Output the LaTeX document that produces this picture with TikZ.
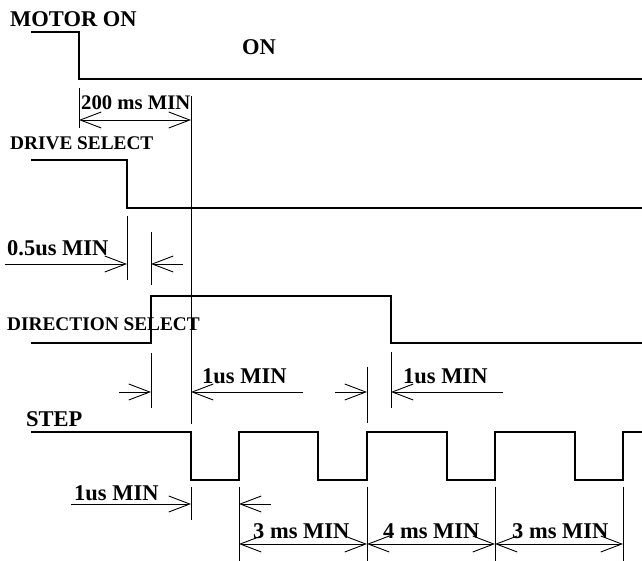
\documentclass[tikz,border=0pt]{standalone}
\usepackage{fontspec}
\setmainfont{Liberation Serif}
\usetikzlibrary{arrows.meta}
\begin{document}
\begin{tikzpicture}[x=1pt,y=-1pt,
  wave/.style={line width=2.6pt, line join=miter},
  dim/.style={line width=0.9pt},
  tipend/.style={dim,-{Straight Barb[length=21pt,width=16pt]}},
  tipboth/.style={dim,{Straight Barb[length=21pt,width=16pt]}-{Straight Barb[length=21pt,width=16pt]}},
  lbl/.style={anchor=base west, inner sep=0pt, font=\bfseries\fontsize{22.5}{27}\selectfont},
  lblm/.style={lbl, font=\bfseries\fontsize{20.7}{25}\selectfont},
  lbls/.style={lbl, font=\bfseries\fontsize{19.3}{23}\selectfont}]
\useasboundingbox (0,0) rectangle (642,561);

% ---- waveforms ----
\draw[wave] (31,32) -- (79,32) -- (79,79) -- (642,79);
\draw[wave] (31,160) -- (127,160) -- (127,208) -- (642,208);
\draw[wave] (31,343) -- (151,343) -- (151,296) -- (391,296) -- (391,343) -- (642,343);
\draw[wave] (31,432) -- (191,432) -- (191,480) -- (239,480) -- (239,432)
  -- (318,432) -- (318,480) -- (367,480) -- (367,432)
  -- (447,432) -- (447,480) -- (495,480) -- (495,432)
  -- (575,432) -- (575,480) -- (623,480) -- (623,432) -- (642,432);

% ---- labels ----
\node[lbl]  (lmotor) at (10,27)  {MOTOR ON};
\node[lbl]  (lon)    at (242,55) {ON};
\node[lblm] (l200)   at (81,110) {200 ms MIN};
\node[lbls] (ldrive) at (10,150) {DRIVE SELECT};
\node[lbl]  (l05)    at (7,255)  {0.5us MIN};
\node[lbls] (ldir)   at (7,330)  {DIRECTION SELECT};
\node[lbl]  (l1a)    at (202,383) {1us MIN};
\node[lbl]  (l1b)    at (403,383) {1us MIN};
\node[lbl]  (lstep)  at (26,426) {STEP};
\node[lbl]  (l1c)    at (74,500) {1us MIN};
\node[lbl]  (l3a)    at (253,538) {3 ms MIN};
\node[lbl]  (l4)     at (383,538) {4 ms MIN};
\node[lbl]  (l3b)    at (512,538) {3 ms MIN};

% ---- extension lines ----
\draw[dim] (79,88) -- (79,128);
\draw[dim] (191,96) -- (191,424);
\draw[dim] (127,216) -- (127,280);
\draw[dim] (151,232) -- (151,285);
\draw[dim] (151,353) -- (151,408);
\draw[dim] (367,367) -- (367,423);
\draw[dim] (391,352) -- (391,408);
\draw[dim] (191,487) -- (191,520);
\draw[dim] (239,487) -- (239,561);
\draw[dim] (367,487) -- (367,561);
\draw[dim] (495,487) -- (495,561);
\draw[dim] (623,487) -- (623,561);

% ---- dimension arrows ----
\coordinate (a200l) at (79,120);  \coordinate (a200r) at (191,120);
\draw[tipboth] (a200l) -- (a200r);

\coordinate (h05a) at (5,264);   \coordinate (t05a) at (127,264);
\coordinate (h05b) at (183,264); \coordinate (t05b) at (151,264);
\draw[tipend] (h05a) -- (t05a);
\draw[tipend] (h05b) -- (t05b);

\coordinate (h1a) at (119,392); \coordinate (t1a) at (151,392);
\coordinate (h1b) at (303,392); \coordinate (t1b) at (191,392);
\draw[tipend] (h1a) -- (t1a);
\draw[tipend] (h1b) -- (t1b);

\coordinate (h1c) at (335,392); \coordinate (t1c) at (367,392);
\coordinate (h1d) at (503,392); \coordinate (t1d) at (391,392);
\draw[tipend] (h1c) -- (t1c);
\draw[tipend] (h1d) -- (t1d);

\coordinate (h1e) at (71,504);  \coordinate (t1e) at (191,504);
\coordinate (h1f) at (271,504); \coordinate (t1f) at (239,504);
\draw[tipend] (h1e) -- (t1e);
\draw[tipend] (h1f) -- (t1f);

\coordinate (b1) at (239,544); \coordinate (b2) at (367,544);
\coordinate (b3) at (495,544); \coordinate (b4) at (623,544);
\draw[tipboth] (b1) -- (b2);
\draw[tipboth] (b2) -- (b3);
\draw[tipboth] (b3) -- (b4);
\end{tikzpicture}
\end{document}
